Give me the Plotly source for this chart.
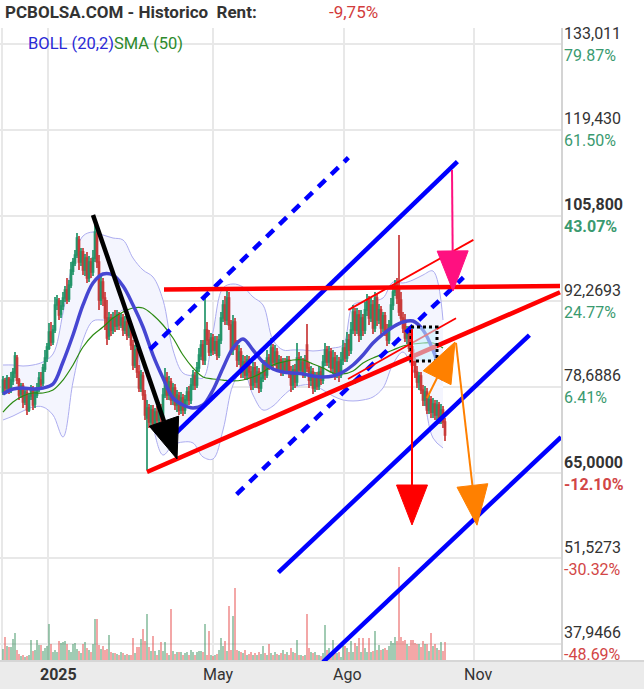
import math
import plotly.graph_objects as go

# ---------------- daily bars (trading-session index, first bar = early Dec 2024) ----------------
open_ = [77.87,79.62,78.51,79.93,78.19,79.62,80.88,83.26,79.77,77.56,
         78.82,76.29,77.71,75.02,77.24,78.35,75.97,77.40,78.51,79.77,
         79.30,81.52,83.26,84.84,87.38,85.80,87.70,91.66,92.29,90.23,
         91.50,92.77,94.03,92.61,94.83,97.04,98.31,99.58,101.96,98.47,
         100.06,97.20,99.10,95.94,98.47,96.89,99.10,102.91,98.47,92.45,
         95.30,92.77,89.60,86.75,89.60,87.70,89.60,88.33,89.92,88.49,
         89.60,87.70,88.96,86.90,88.49,85.32,82.15,84.53,81.04,78.51,
         80.41,77.40,73.75,75.34,73.12,75.02,72.64,74.70,73.44,75.34,
         73.75,77.40,80.09,77.40,79.46,76.61,78.51,75.81,77.24,75.02,
         76.92,75.02,76.61,77.87,76.61,78.98,80.41,78.98,81.68,83.58,
         85.32,82.94,87.70,86.11,84.21,86.43,84.53,85.80,83.73,86.11,
         89.60,91.66,89.28,92.77,88.49,84.53,88.96,85.32,82.94,84.21,
         81.04,82.63,80.57,82.94,81.04,78.98,81.68,79.46,81.04,78.51,
         80.09,82.15,80.57,83.26,82.15,84.84,82.63,84.21,81.68,82.94,
         81.04,82.63,81.36,82.94,81.04,78.98,81.36,79.46,83.26,81.36,
         82.63,81.04,85.32,81.68,79.77,81.04,78.51,80.09,78.82,81.04,
         79.77,82.63,84.53,82.63,84.21,81.68,83.26,81.04,82.63,80.57,
         82.94,84.84,83.26,86.11,84.53,87.70,90.55,87.70,90.07,86.90,
         89.60,87.70,90.87,92.45,89.60,91.66,88.01,92.77,89.28,90.87,
         88.01,89.92,87.70,86.11,88.49,91.66,93.72,94.83,94.35,92.45,
         89.60,89.28,86.43,87.70,86.90,84.53,82.63,81.04,79.46,80.41,
         78.19,76.61,77.87,75.02,76.61,74.70,75.97,74.23,75.81,73.75,
         75.02,73.12]

high = [80.41,80.09,80.57,80.25,81.04,81.68,84.21,83.73,80.09,79.30,
        79.30,78.51,78.19,77.71,78.98,78.82,78.19,79.30,81.04,81.04,
        82.31,84.53,85.64,88.81,88.96,88.49,92.93,93.24,92.77,92.45,
        93.72,94.67,95.94,95.62,98.47,99.10,100.37,103.07,102.59,100.69,
        100.69,99.74,100.06,99.42,99.10,100.37,104.81,103.54,99.58,96.25,
        95.94,93.72,92.45,90.55,90.23,90.55,90.87,90.87,90.55,90.39,
        90.23,89.92,89.60,89.28,88.96,86.11,85.32,84.84,82.15,81.36,
        81.04,78.19,76.61,75.97,75.81,75.81,75.34,75.65,76.29,75.97,
        78.51,81.68,81.04,80.41,80.09,79.30,79.14,78.19,77.87,77.87,
        77.56,77.40,78.66,78.82,80.09,81.36,81.04,82.63,84.84,86.11,
        86.11,92.93,88.96,87.70,87.22,87.06,86.75,86.75,87.06,90.55,
        92.45,93.08,94.03,93.72,89.28,90.07,89.60,86.11,85.32,84.84,
        83.73,83.58,83.73,83.58,81.99,82.63,82.63,81.99,81.68,81.04,
        82.94,82.94,84.53,83.89,86.43,85.48,85.32,84.84,83.73,83.58,
        83.26,83.26,83.58,83.58,81.99,82.15,82.31,85.64,84.21,83.58,
        83.26,83.73,88.65,82.63,81.99,81.68,81.04,81.04,81.99,81.83,
        83.73,85.64,85.16,85.16,84.84,84.53,84.21,83.73,83.42,84.21,
        86.11,85.64,87.38,87.06,88.96,91.66,91.18,91.18,90.87,90.87,
        90.23,92.13,93.40,93.08,92.77,92.45,93.72,93.40,91.82,91.50,
        90.55,90.55,88.65,89.28,92.77,94.67,95.62,95.94,102.75,93.72,
        90.55,90.23,88.33,88.33,87.70,85.16,83.26,81.99,81.04,81.04,
        78.98,78.82,78.51,77.40,77.24,76.92,76.61,76.61,76.29,75.97,
        75.65,73.75]

low = [77.40,77.87,77.87,77.56,77.71,78.98,80.09,79.14,76.61,76.92,
       75.34,75.81,74.23,74.70,76.61,75.02,75.34,76.92,77.87,78.51,
       78.82,81.04,82.63,84.53,85.16,85.32,87.22,90.87,89.28,89.60,
       90.87,92.13,91.82,92.13,94.35,96.41,97.84,99.10,97.20,97.84,
       96.41,96.25,95.14,95.30,95.94,96.25,98.47,97.52,90.87,91.66,
       91.50,87.70,85.32,86.11,86.75,87.06,87.38,87.70,87.70,88.01,
       86.75,87.06,86.11,86.43,84.53,81.36,81.68,80.09,77.87,77.87,
       76.61,73.44,65.51,72.17,72.49,71.85,72.17,72.49,72.80,73.12,
       73.44,76.92,76.61,76.61,75.81,75.81,75.02,74.70,74.23,74.39,
       74.07,74.39,75.81,75.81,75.97,78.19,78.19,78.51,81.04,82.94,
       82.15,82.15,85.32,83.58,83.58,83.73,83.89,82.94,83.26,85.48,
       88.96,88.49,88.49,87.70,83.73,83.73,84.53,81.83,82.15,80.09,
       80.09,79.77,79.77,80.09,78.19,78.19,78.51,78.51,77.71,77.87,
       79.46,79.77,80.09,81.36,81.68,81.68,81.99,81.04,81.04,80.41,
       80.41,80.73,80.73,80.09,77.87,78.19,78.51,78.82,80.57,80.73,
       80.09,80.09,81.04,78.51,78.82,77.56,77.87,78.19,78.19,78.98,
       79.14,81.99,81.99,81.68,81.04,80.73,79.77,80.09,79.46,80.09,
       82.15,82.63,82.63,83.58,83.89,87.06,86.75,87.06,85.80,86.11,
       86.75,87.06,89.92,88.49,88.96,87.06,87.38,88.33,88.65,87.06,
       87.38,86.75,85.16,85.48,88.01,90.87,93.08,91.82,89.92,88.96,
       87.22,85.80,85.48,84.21,83.73,81.99,80.09,78.51,78.19,77.56,
       75.65,75.65,74.39,74.39,73.75,73.75,73.44,73.44,72.80,72.80,
       72.17,70.11]

close = [79.77,78.51,80.09,78.19,79.77,81.04,83.58,79.77,77.40,78.82,
         76.29,77.87,75.02,77.24,78.51,75.81,77.56,78.51,80.09,79.14,
         81.68,83.26,85.00,87.38,85.80,87.70,91.66,92.45,90.07,91.50,
         92.77,94.03,92.45,94.83,97.20,98.47,99.58,102.27,98.47,100.06,
         97.20,99.10,95.94,98.47,96.89,99.10,103.22,98.47,92.45,95.30,
         92.77,89.60,86.43,89.60,87.70,89.60,88.33,90.07,88.49,89.60,
         87.70,88.96,86.90,88.49,85.32,82.15,84.53,81.04,78.51,80.57,
         77.40,74.23,75.34,73.12,75.02,72.64,74.70,73.44,75.34,73.75,
         77.40,80.09,77.40,79.46,76.61,78.51,75.81,77.40,75.02,76.92,
         75.02,76.61,77.87,76.61,78.98,80.57,78.98,81.68,83.73,85.32,
         82.94,87.70,86.11,84.21,86.43,84.53,85.80,83.73,86.11,89.60,
         91.66,89.28,92.77,88.49,84.53,88.96,85.32,82.94,84.21,81.04,
         82.63,80.57,82.94,81.04,78.98,81.68,79.46,81.04,78.51,80.09,
         82.15,80.57,83.26,82.15,84.84,82.63,84.21,81.68,82.94,81.04,
         82.63,81.36,82.94,81.04,78.98,81.36,79.46,83.26,81.36,82.63,
         81.04,82.94,81.68,79.77,81.04,78.51,80.09,78.82,81.04,79.77,
         82.63,84.53,82.63,84.21,81.68,83.26,81.04,82.63,80.57,82.94,
         84.84,83.26,86.11,84.53,87.70,90.55,87.70,90.07,86.90,89.60,
         87.70,90.87,92.45,89.60,91.66,88.01,92.77,89.28,90.87,88.01,
         89.92,87.70,86.11,88.49,91.66,93.72,94.83,92.77,90.55,89.60,
         88.01,86.43,87.70,84.84,84.53,82.63,81.04,79.46,80.41,78.19,
         76.61,77.87,75.02,76.61,74.70,75.97,74.23,75.81,73.75,75.02,
         73.12,71.06]

# thousands of shares
volume = [120,240,150,145,140,220,280,110,70,55, 60,45,50,60,210,100,110,210,160,160, 100,130,150,370,170,
          95,110,90,200,180, 190,200,170,110,90, 170,180,120,100,80, 170,190,130,110,90, 170,420,420,160,120,
          150,110,120,260,95, 85,80,70,60,90, 80,60,70,60,65, 230,80,140,140,220, 320,200,470,140,100,
          250,100,60,110,190, 100,190,80,60,520, 100,70,95,95,95, 60,80,95,60,110, 95,60,95,100,100,
          95,370,60,300,60, 55,60,75,110,230, 150,200,100,550,110, 450,730,110,100,95, 80,110,60,70,95,
          60,80,60,95,70, 150,80,60,170,80, 60,95,70,60,85, 110,70,95,60,130, 95,80,210,60,60,
          55,60,470,130,95, 80,95,60,60,55, 80,360,110,130,60, 210,110,80,95,40, 170,150,130,95,200,
          95,180,150,230,95, 230,130,95,230,95, 100,300,110,160,110, 120,130,110,150,200, 180,240,200,940,240,
          200,210,170,150,210, 210,180,170,170,140, 200,170,170,100,280, 150,170,130,110,190, 100,190]

# Bollinger (20,2) and SMA(50), every 5 sessions
ind_idx = list(range(0, 221, 5))
boll_mid = [77.56,78.35,78.51,78.35,78.51,79.14,82.63,86.90,91.66,95.14,
            96.57,96.41,94.67,91.66,88.17,83.73,80.09,76.92,75.81,75.34,
            75.81,78.19,81.68,84.84,86.27,84.53,82.63,81.52,81.04,80.88,
            80.73,80.41,80.25,80.41,81.04,82.15,83.73,85.64,87.06,88.17,
            88.96,89.12,87.70,84.53,79.77]
boll_up = [82.15,82.15,81.99,82.15,82.63,83.89,90.39,98.47,102.59,103.22,
           102.75,102.27,101.96,99.10,97.20,96.09,92.45,84.53,80.88,80.41,
           80.09,87.38,94.35,94.99,94.51,92.93,91.66,86.11,84.53,84.53,
           84.53,84.37,84.53,84.84,85.32,91.66,92.13,92.29,92.77,95.30,
           95.14,95.62,96.41,97.04,89.28]
boll_low = [73.44,74.07,74.86,75.50,75.50,74.23,70.74,79.46,86.11,89.12,
            89.28,89.28,90.87,88.17,78.98,72.33,67.89,69.48,69.95,69.80,
            67.58,67.26,71.85,78.98,81.36,77.40,75.02,75.65,77.24,78.51,
            78.98,78.98,78.19,77.24,76.61,76.45,76.61,77.08,78.51,82.31,
            84.21,81.36,77.40,70.59,69.00]
sma50 = [74.70,76.29,77.24,77.71,77.71,78.19,79.77,82.15,85.00,86.90,
         88.17,89.60,90.55,91.18,91.18,90.07,88.49,86.43,83.73,81.68,
         80.25,79.93,79.77,79.62,79.77,80.25,81.04,82.15,82.63,82.94,
         82.94,82.31,81.68,80.88,80.73,81.20,82.47,83.26,83.89,84.53,
         85.16,85.48,85.64,85.64,84.84]

# right-hand price scale
y_ticks = [133.011, 119.430, 105.800, 92.2693, 78.6886, 65.0000, 51.5273, 37.9466]
y_tick_text = ["133,011", "119,430", "105,800", "92,2693", "78,6886", "65,0000", "51,5273", "37,9466"]
pct_text = ["79.87%", "61.50%", "43.07%", "24.77%", "6.41%", "-12.10%", "-30.32%", "-48.69%"]
bold_levels = ["105,800", "65,0000"]

# month markers on the session axis
month_idx = [-0.75, 22.5, 105.0, 170.5, 235.5]
month_labels = ["", "2025", "May", "Ago", "Nov"]

# drawn studies: (session, price) end points
blue_solid = [[(86.8, 71.47), (227.2, 114.36)],
              [(137.7, 49.29), (263.2, 86.90)],
              [(160.0, 35.09), (279.0, 70.73)]]
blue_dashed = [[(73.5, 84.62), (172.7, 115.00)],
               [(116.8, 61.67), (230.2, 96.02)]]
red_thick = [[(72.0, 65.20), (278.5, 93.67)],
             [(80.5, 94.11), (278.5, 94.67)]]
red_thin = [[(172.7, 90.89), (235.2, 101.98)],
            [(172.5, 79.93), (226.5, 89.55)]]
box_zone = [(204.0, 88.17), (217.0, 82.79)]
arrows = [  # tail, tip, colour, shaft width
    [(45.0, 105.92), (87.0, 67.26), "#000000", 4.5],
    [(224.5, 113.05), (225.0, 93.88), "#ff1080", 2],
    [(204.5, 87.86), (204.5, 56.80), "#ff0000", 2],
    [(212.0, 76.92), (226.0, 85.80), "#ff8000", 2],
    [(226.5, 85.64), (237.0, 56.77), "#ff8000", 2],
]

# ---------------- layout geometry ----------------
W, H = 644, 689
M_L, M_R, M_T, M_B = 0, 83, 28, 28
PLOT_W, PLOT_H = W - M_L - M_R, H - M_T - M_B
X_RANGE = [-1.5, 279.0]
Y_RANGE = [35.252, 135.546]
VOL_RANGE = [0, 6330]
XPX = PLOT_W / (X_RANGE[1] - X_RANGE[0])
YPX = PLOT_H / (Y_RANGE[1] - Y_RANGE[0])

UP, DN = "#23956a", "#c83a3a"
GRID = "#e8e8e8"
FONT = "Roboto"

bar_idx = list(range(len(close)))
vol_colors = ["rgba(46,139,87,0.45)" if c >= o else "rgba(232,80,80,0.5)" for o, c in zip(open_, close)]

fig = go.Figure()

# Bollinger envelope (bottom layer, axis y)
fig.add_trace(go.Scatter(x=ind_idx, y=boll_low, mode="lines", line=dict(color="#adadf0", width=1, shape="spline"),
                         hoverinfo="skip"))
fig.add_trace(go.Scatter(x=ind_idx, y=boll_up, mode="lines", line=dict(color="#adadf0", width=1, shape="spline"),
                         fill="tonexty", fillcolor="#f4f5fe", hoverinfo="skip"))

# volume (axis y2)
fig.add_trace(go.Bar(x=bar_idx, y=volume, yaxis="y2", marker=dict(color=vol_colors, line=dict(width=0)),
                     width=0.6, hoverinfo="skip"))

# candles (axis y3, same price scale, drawn above the envelope)
fig.add_trace(go.Candlestick(x=bar_idx, open=open_, high=high, low=low, close=close, yaxis="y3",
                             increasing=dict(line=dict(color=UP, width=1.7), fillcolor=UP),
                             decreasing=dict(line=dict(color=DN, width=1.7), fillcolor=DN),
                             whiskerwidth=0, hoverinfo="skip"))

# SMA(50) and Bollinger middle line (axis y4, above the candles)
fig.add_trace(go.Scatter(x=ind_idx, y=sma50, yaxis="y4", mode="lines",
                         line=dict(color="#2b8a12", width=1.2, shape="spline"), hoverinfo="skip"))
fig.add_trace(go.Scatter(x=ind_idx, y=boll_mid, yaxis="y4", mode="lines",
                         line=dict(color="#4646d2", width=3.5, shape="spline"), hoverinfo="skip"))

shapes = []
# grey strip under the time axis
shapes.append(dict(type="rect", xref="paper", yref="paper", x0=-0.01, x1=W / PLOT_W + 0.01,
                   y0=0, y1=-(M_B + 2) / PLOT_H, fillcolor="#ebebeb", line=dict(width=0), layer="below"))
shapes.append(dict(type="line", xref="paper", yref="paper", x0=0, x1=W / PLOT_W, y0=0, y1=0,
                   line=dict(color="#d6d6d6", width=2), layer="above"))


def seg(p0, p1, color, width, dash="solid"):
    return dict(type="line", xref="x", yref="y", x0=p0[0], y0=p0[1], x1=p1[0], y1=p1[1],
                line=dict(color=color, width=width, dash=dash), layer="above")


for a, b in blue_dashed:
    shapes.append(seg(a, b, "#0000ff", 4.5, "10px,8px"))
for a, b in blue_solid:
    shapes.append(seg(a, b, "#0000ff", 4.5))
for a, b in red_thick:
    shapes.append(seg(a, b, "#ff0000", 4.5))
for a, b in red_thin:
    shapes.append(seg(a, b, "#ff0000", 1.8))

shapes.append(dict(type="rect", xref="x", yref="y", x0=box_zone[0][0], y0=box_zone[0][1],
                   x1=box_zone[1][0], y1=box_zone[1][1], fillcolor="rgba(200,240,255,0.55)",
                   line=dict(color="#000000", width=3, dash="3px,3px"), layer="above"))


def arrow(tail, tip, color, width, length=40, spread=31):
    dx = (tip[0] - tail[0]) * XPX
    dy = (tip[1] - tail[1]) * YPX
    n = math.hypot(dx, dy)
    ux, uy = dx / n, dy / n
    bx, by = -ux * length, -uy * length
    px, py = -uy * spread / 2, ux * spread / 2
    base = (tip[0] + bx / XPX, tip[1] + by / YPX)
    c1 = (tip[0] + (bx + px) / XPX, tip[1] + (by + py) / YPX)
    c2 = (tip[0] + (bx - px) / XPX, tip[1] + (by - py) / YPX)
    path = f"M {tip[0]},{tip[1]} L {c1[0]},{c1[1]} L {c2[0]},{c2[1]} Z"
    return [seg(tail, base, color, width),
            dict(type="path", xref="x", yref="y", path=path, fillcolor=color,
                 line=dict(color=color, width=1), layer="above")]


for tail, tip, col, w in arrows:
    shapes.extend(arrow(tail, tip, col, w))

ann = []
# price scale labels
for v, t, p in zip(y_ticks, y_tick_text, pct_text):
    bold = t in bold_levels
    ann.append(dict(xref="paper", yref="y", x=1, y=v, xanchor="left", yanchor="middle", xshift=1, yshift=11,
                    text=f"<b>{t}</b>" if bold else t, showarrow=False,
                    font=dict(family=FONT, size=16, color="#333333")))
    pc = "#d24646" if p.startswith("-") else "#3a9a70"
    ann.append(dict(xref="paper", yref="y", x=1, y=v, xanchor="left", yanchor="middle", xshift=1, yshift=-11,
                    text=f"<b>{p}</b>" if bold else p, showarrow=False,
                    font=dict(family=FONT, size=16, color=pc)))

# time labels
label_px = {"2025": 58, "May": 218, "Ago": 347, "Nov": 478}
for lab in month_labels:
    if not lab:
        continue
    ann.append(dict(xref="paper", yref="paper", x=label_px[lab] / PLOT_W, y=-13 / PLOT_H,
                    xanchor="center", yanchor="middle", showarrow=False,
                    text=f"<b>{lab}</b>" if lab == "2025" else lab,
                    font=dict(family=FONT, size=16, color="#333333")))

# heading and study legend
ann.append(dict(xref="paper", yref="paper", x=3 / PLOT_W, y=(PLOT_H + M_T - 12) / PLOT_H,
                xanchor="left", yanchor="middle", showarrow=False,
                text="<b>PCBOLSA.COM - Historico &nbsp;Rent:</b>",
                font=dict(family=FONT, size=17, color="#333333")))
ann.append(dict(xref="paper", yref="paper", x=327 / PLOT_W, y=(PLOT_H + M_T - 12) / PLOT_H,
                xanchor="left", yanchor="middle", showarrow=False, text="-9,75%",
                font=dict(family=FONT, size=17, color="#d23c3c")))
ann.append(dict(xref="paper", yref="paper", x=26 / PLOT_W, y=(PLOT_H + M_T - 43) / PLOT_H,
                xanchor="left", yanchor="middle", showarrow=False,
                text="<span style='color:#2a2ad6'>BOLL (20,2)</span><span style='color:#2d8a2d'>SMA (50)</span>",
                font=dict(family=FONT, size=16.5)))

fig.update_layout(
    width=W, height=H, margin=dict(l=M_L, r=M_R, t=M_T, b=M_B),
    paper_bgcolor="white", plot_bgcolor="white",
    showlegend=False, hovermode=False,
    shapes=shapes, annotations=ann,
    xaxis=dict(range=X_RANGE, tickvals=month_idx, showticklabels=False, ticks="",
               showgrid=True, gridcolor=GRID, gridwidth=2, zeroline=False,
               rangeslider=dict(visible=False), fixedrange=True),
    yaxis=dict(range=Y_RANGE, tickvals=y_ticks, showticklabels=False, ticks="", side="right",
               showgrid=True, gridcolor=GRID, gridwidth=2, zeroline=False,
               showline=True, linecolor="#d4d4d4", linewidth=2, fixedrange=True),
    yaxis2=dict(range=VOL_RANGE, overlaying="y", visible=False, fixedrange=True),
    yaxis3=dict(range=Y_RANGE, overlaying="y", visible=False, fixedrange=True),
    yaxis4=dict(range=Y_RANGE, overlaying="y", visible=False, fixedrange=True),
    bargap=0,
)

fig.write_html("out.html", config={"displayModeBar": False})
